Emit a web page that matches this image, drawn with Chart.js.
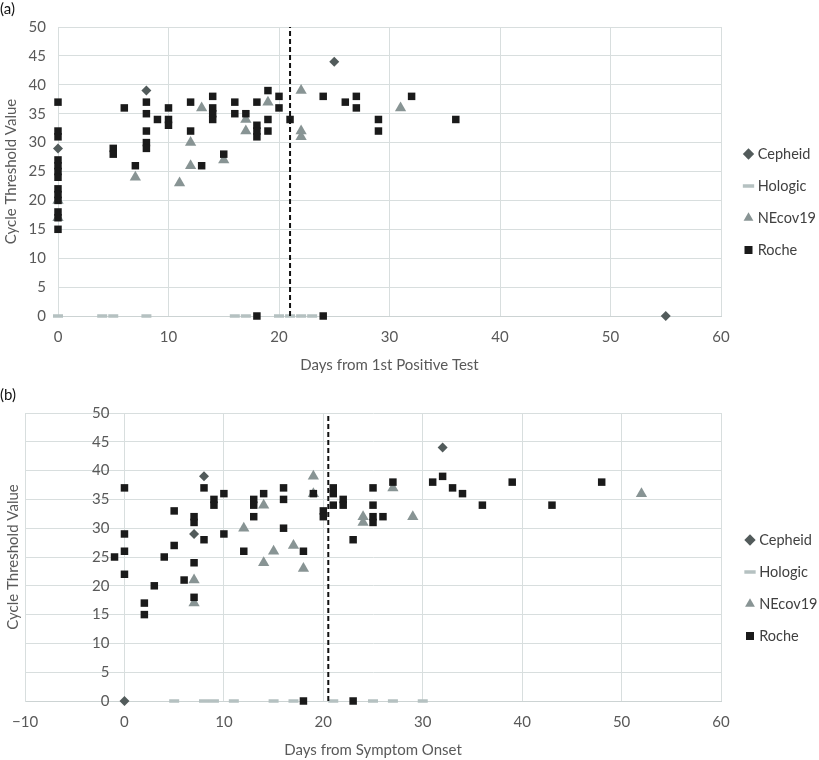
<!DOCTYPE html>
<html>
<head>
<meta charset="utf-8">
<script src="https://cdn.jsdelivr.net/npm/chart.js@4.4.0/dist/chart.umd.min.js"></script>
<style>
  html, body { margin: 0; padding: 0; background: #ffffff; overflow: hidden; }
  canvas { display: block; }
</style>
</head>
<body>
<canvas id="ca" width="819" height="386" style="width:819px;height:386px"></canvas>
<canvas id="cb" width="819" height="374" style="width:819px;height:374px"></canvas>
<script>
// ---------- DATA: panel (a) Days from 1st Positive Test ----------
const cepheidA = [[0,29],[8,39],[25,44],[55,0]];
const hologicA = [[0,0],[4,0],[5,0],[8,0],[16,0],[17,0],[20,0],[21,0],[22,0],[23,0]];
const necovA = [[0,20],[0,17],[7,24],[11,23],[12,30],[12,26],[13,36],[15,27],[17,34],[17,32],
                [19,37],[22,39],[22,32],[22,31],[31,36]];
const rocheA = [[0,37],[0,32],[0,31],[0,27],[0,26],[0,25],[0,24],[0,22],[0,21],[0,20],[0,18],[0,17],[0,15],
                [5,29],[5,28],[6,36],[7,26],[8,37],[8,35],[8,32],[8,30],[8,29],[9,34],[10,36],[10,34],[10,33],
                [12,37],[12,32],[13,26],[14,38],[14,36],[14,35],[14,34],[15,28],[16,37],[16,35],[17,35],
                [18,37],[18,33],[18,32],[18,31],[18,0],[19,39],[19,34],[19,32],[20,38],[20,36],[21,34],
                [24,38],[24,0],[26,37],[27,38],[27,36],[29,34],[29,32],[32,38],[36,34]];
const cutoffA = 21;

// ---------- DATA: panel (b) Days from Symptom Onset ----------
const cepheidB = [[0,0],[7,29],[8,39],[32,44]];
const hologicB = [[5,0],[8,0],[9,0],[11,0],[15,0],[17,0],[21,0],[25,0],[27,0],[30,0]];
const necovB = [[7,21],[7,17],[12,30],[14,34],[14,24],[15,26],[17,27],[18,23],[19,39],[19,36],
                [24,32],[24,31],[27,37],[29,32],[52,36]];
const rocheB = [[-1,25],[0,37],[0,29],[0,26],[0,22],[2,17],[2,15],[3,20],[4,25],[5,33],[5,27],[6,21],
                [7,32],[7,31],[7,24],[7,18],[8,37],[8,28],[9,35],[9,34],[10,36],[10,29],[12,26],
                [13,35],[13,34],[13,32],[14,36],[16,37],[16,35],[16,30],[18,26],[18,0],[19,36],
                [20,33],[20,32],[21,37],[21,36],[21,34],[22,35],[22,34],[23,28],[23,0],
                [25,37],[25,34],[25,32],[25,31],[26,32],[27,38],[31,38],[32,39],[33,37],[34,36],
                [36,34],[39,38],[43,34],[48,38]];
const cutoffB = 20.5;

// ---------- labels ----------
const seriesNames = ['Cepheid', 'Hologic', 'NEcov19', 'Roche'];
const panelLabels = ['(a)', '(b)'];
const xTitles = ['Days from 1st Positive Test', 'Days from Symptom Onset'];
const yTitle = 'Cycle Threshold Value';
const xRangeA = [0, 60];
const xRangeB = [-10, 60];
const yRange = [0, 50];

// ---------- styling ----------
const FONT = "Lato, 'Open Sans', 'Liberation Sans', sans-serif";
const GRID = '#d8dede';
const TICK = '#595959';
const C_CEP = '#525b5b', C_HOL = '#b5c1c1', C_NEC = '#889494', C_ROC = '#1a1a1a';

const toPts = arr => arr.map(([x, y]) => ({ x, y }));

function makeDatasets(cep, hol, nec, roc, cutoff) {
  return [
    { label: seriesNames[0], data: toPts(cep), order: 4, clip: false,
      pointStyle: 'rectRot', pointRadius: 5, pointBorderWidth: 0, borderWidth: 0,
      backgroundColor: C_CEP, borderColor: C_CEP, pointBackgroundColor: C_CEP, pointBorderColor: C_CEP },
    { label: seriesNames[1], data: toPts(hol), order: 3, clip: false,
      pointStyle: 'line', pointRadius: 5, pointBorderWidth: 3.5, borderWidth: 3.5,
      backgroundColor: C_HOL, borderColor: C_HOL, pointBackgroundColor: C_HOL, pointBorderColor: C_HOL },
    { label: seriesNames[2], data: toPts(nec), order: 2, clip: false,
      pointStyle: 'triangle', pointRadius: 6.5, pointBorderWidth: 0, borderWidth: 0,
      backgroundColor: C_NEC, borderColor: C_NEC, pointBackgroundColor: C_NEC, pointBorderColor: C_NEC },
    { label: seriesNames[3], data: toPts(roc), order: 1, clip: false,
      pointStyle: 'rect', pointRadius: 5.3, pointBorderWidth: 0, borderWidth: 0,
      backgroundColor: C_ROC, borderColor: C_ROC, pointBackgroundColor: C_ROC, pointBorderColor: C_ROC },
    { label: 'cutoff', data: [{ x: cutoff, y: yRange[0] }, { x: cutoff, y: yRange[1] }], order: 0,
      showLine: true, pointRadius: 0, borderColor: '#111111', borderWidth: 2, borderDash: [5, 3] }
  ];
}

const legendPlacer = {
  id: 'legendPlacer',
  afterLayout(chart, args, opts) {
    const l = chart.legend;
    if (!l) return;
    const w = l.width, h = l.height;
    l.left = opts.x; l.right = opts.x + w;
    l.top = opts.y; l.bottom = opts.y + h;
  }
};

function makeChart(id, cfg) {
  const yScale = {
    type: 'linear', position: 'left', min: yRange[0], max: yRange[1],
    ticks: { stepSize: 5, color: TICK, font: { family: FONT, size: 15 }, padding: cfg.yPad,
             mirror: cfg.mirror, crossAlign: cfg.mirror ? 'far' : 'near' },
    grid: { color: GRID, lineWidth: 1, drawTicks: false },
    border: { color: GRID },
    title: { display: true, text: yTitle, color: TICK, font: { family: FONT, size: 15 },
             padding: { top: 2, bottom: 0 } },
    afterFit: s => { s.width = cfg.yWidth; s.paddingTop = 9; s.paddingBottom = 9; }
  };
  return new Chart(document.getElementById(id), {
    type: 'scatter',
    data: { datasets: makeDatasets(cfg.cep, cfg.hol, cfg.nec, cfg.roc, cfg.cutoff) },
    options: {
      responsive: false, animation: false, events: [],
      layout: { padding: { left: 0, right: 98, top: 0, bottom: 0 } },
      scales: {
        x: {
          type: 'linear', position: 'bottom', min: cfg.xRange[0], max: cfg.xRange[1],
          ticks: { stepSize: 10, color: TICK, font: { family: FONT, size: 15 }, padding: 12,
                   callback: v => (v < 0 ? '\u2212' + Math.abs(v) : String(v)) },
          grid: { color: GRID, lineWidth: 1, drawTicks: false },
          border: { color: '#ccd3d3' },
          title: { display: true, text: cfg.xTitle, color: TICK, font: { family: FONT, size: 15 },
                   padding: { top: 0, bottom: cfg.xTitlePad } },
          afterFit: s => { s.height = cfg.xHeight; }
        },
        y: yScale
      },
      plugins: {
        title: { display: true, text: cfg.label, align: 'start', color: '#111111',
                 font: { family: FONT, size: 15, weight: 'normal' }, padding: { top: 0, bottom: 9 } },
        legend: {
          display: true, position: 'chartArea', align: 'start',
          labels: {
            usePointStyle: true, boxWidth: 4, boxHeight: 8, padding: 17.5, color: '#404040',
            font: { family: FONT, size: 14.5 },
            filter: item => item.datasetIndex < 4,
            sort: (a, b) => a.datasetIndex - b.datasetIndex
          }
        },
        tooltip: { enabled: false },
        legendPlacer: { x: cfg.legendX, y: 129.25 }
      }
    },
    plugins: [legendPlacer]
  });
}

makeChart('ca', {
  cep: cepheidA, hol: hologicA, nec: necovA, roc: rocheA, cutoff: cutoffA,
  xRange: xRangeA, xTitle: xTitles[0], label: panelLabels[0],
  yWidth: 58, yPad: 12, mirror: false, xHeight: 70, xTitlePad: 12, legendX: 729
});
makeChart('cb', {
  cep: cepheidB, hol: hologicB, nec: necovB, roc: rocheB, cutoff: cutoffB,
  xRange: xRangeB, xTitle: xTitles[1], label: panelLabels[1],
  yWidth: 23, yPad: 67, mirror: true, xHeight: 59, xTitlePad: 1, legendX: 730.5
});
</script>
</body>
</html>
